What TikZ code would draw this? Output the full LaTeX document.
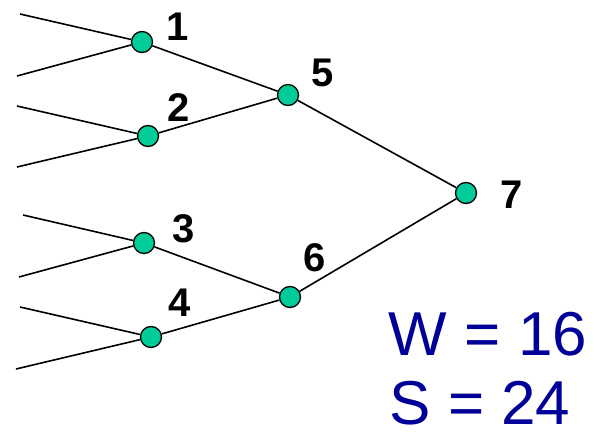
\documentclass[tikz,border=0pt]{standalone}
\usepackage{fontspec}
\setmainfont{Liberation Sans}
\usetikzlibrary{positioning}
\definecolor{nodegreen}{RGB}{0,204,153}
\definecolor{darkblue}{RGB}{0,0,153}

\begin{document}
\begin{tikzpicture}[x=1pt, y=-1pt,
    vert/.style={circle, draw=black, line width=1.3pt, fill=nodegreen,
                 minimum size=21pt, inner sep=0pt},
    num/.style={font=\fontsize{40}{48}\selectfont\bfseries, inner sep=0pt},
    edge/.style={line width=1.6pt, color=black},
    total/.style={font=\fontsize{62}{74}\selectfont, text=darkblue, inner sep=0pt}
]
\useasboundingbox (0,0) rectangle (594,433);
% free ends on the left
\coordinate (a1) at (20,14);
\coordinate (a2) at (17,76);
\coordinate (a3) at (17,106);
\coordinate (a4) at (17,167);
\coordinate (a5) at (23,215);
\coordinate (a6) at (19,277);
\coordinate (a7) at (20,307);
\coordinate (a8) at (16,369);

\node[vert] (n1) at (142,42) {};
\node[vert] (n2) at (148,136) {};
\node[vert] (n3) at (144,243) {};
\node[vert] (n4) at (151,337) {};
\node[vert] (n5) at (288,95) {};
\node[vert] (n6) at (290,297) {};
\node[vert] (n7) at (466,193) {};

\node[num] (l1) at (178,27) {1};
\node[num] (l2) at (179,108) {2};
\node[num] (l3) at (184,229) {3};
\node[num] (l4) at (180,303) {4};
\node[num] (l5) at (323,73) {5};
\node[num] (l6) at (315,258) {6};
\node[num] (l7) at (512,195) {7};

\draw[edge] (a1) -- (n1);
\draw[edge] (a2) -- (n1);
\draw[edge] (a3) -- (n2);
\draw[edge] (a4) -- (n2);
\draw[edge] (a5) -- (n3);
\draw[edge] (a6) -- (n3);
\draw[edge] (a7) -- (n4);
\draw[edge] (a8) -- (n4);
\draw[edge] (n1) -- (n5);
\draw[edge] (n2) -- (n5);
\draw[edge] (n3) -- (n6);
\draw[edge] (n4) -- (n6);
\draw[edge] (n5) -- (n7);
\draw[edge] (n6) -- (n7);

\node[total] (work) at (488,334) {W = 16};
\node[total] (span) at (480,403) {S = 24};
\end{tikzpicture}
\end{document}
